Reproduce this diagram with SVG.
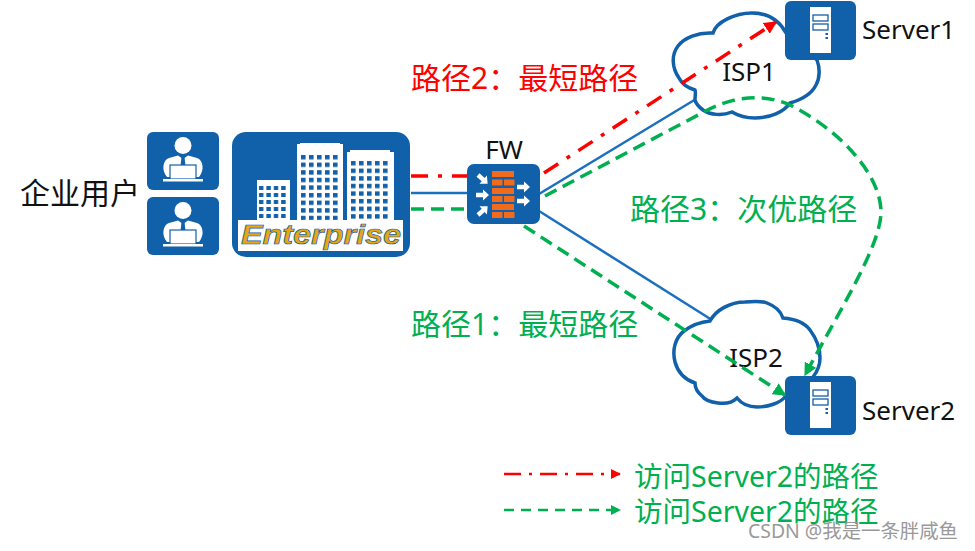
<svg xmlns="http://www.w3.org/2000/svg" xmlns:xlink="http://www.w3.org/1999/xlink" width="975" height="551" viewBox="0 0 975 551">
<style>
text{font-family:"Noto Sans","Noto Sans CJK SC",sans-serif}
.t{font-size:26px;fill:#111}
.g{font-size:30px;fill:#00b050}
.r{font-size:30px;fill:#f00}
.lg{font-size:28.500px;fill:#00b050}
.box{fill:#1160aa}
.w{fill:#fff}
.o{fill:#f26b1d}
.blue{fill:none;stroke:#1a6fc0;stroke-width:2.500}
.rd{fill:none;stroke:#f00;stroke-width:3.500;stroke-dasharray:17 10 4 10}
.gd{fill:none;stroke:#00b050;stroke-width:3.500;stroke-dasharray:13 7}
.cloud{fill:#fff;stroke:#1160aa;stroke-width:3.500}
</style>
<defs>
<marker id="mr" viewBox="0 0 10 10" refX="9" refY="5" markerUnits="userSpaceOnUse" markerWidth="13" markerHeight="13" orient="auto"><path d="M0 0L10 5L0 10z" fill="#f00"/></marker>
<marker id="mg" viewBox="0 0 10 10" refX="9" refY="5" markerUnits="userSpaceOnUse" markerWidth="13" markerHeight="13" orient="auto"><path d="M0 0L10 5L0 10z" fill="#00b050"/></marker>
<marker id="lr" viewBox="0 0 10 10" refX="9" refY="5" markerUnits="userSpaceOnUse" markerWidth="10" markerHeight="10" orient="auto"><path d="M0 0L10 5L0 10z" fill="#f00"/></marker>
<marker id="lg" viewBox="0 0 10 10" refX="9" refY="5" markerUnits="userSpaceOnUse" markerWidth="10" markerHeight="10" orient="auto"><path d="M0 0L10 5L0 10z" fill="#00b050"/></marker>
<pattern id="win" width="8" height="7.600" patternUnits="userSpaceOnUse" x="300" y="154"><rect x="1" y="1" width="4.600" height="4.400" fill="#1160aa"/></pattern>
<pattern id="win2" width="8" height="7.600" patternUnits="userSpaceOnUse" x="350" y="160"><rect x="1" y="1" width="4.600" height="4.400" fill="#1160aa"/></pattern>
<pattern id="win3" width="7.400" height="7" patternUnits="userSpaceOnUse" x="258" y="185"><rect x="1" y="1" width="4.400" height="4" fill="#1160aa"/></pattern>
<g id="person">
<rect x="0" y="0" width="72" height="58" rx="6" class="box"/>
<circle cx="36" cy="13.500" r="8.500" class="w"/>
<path d="M20 45C14 38 16 28 22 26L31 23.500L36 27L41 23.500L50 26C56 28 58 38 52 45z" class="w"/>
<path d="M34.500 25h3l1 9h-5z" class="box"/>
<rect x="23" y="33" width="26" height="14" fill="#fff" stroke="#1160aa" stroke-width="1.200"/>
<rect x="16" y="47" width="40" height="2.500" class="w"/>
</g>
<g id="srv">
<rect x="0" y="0" width="71" height="59" rx="6" class="box"/>
<rect x="25" y="6" width="21" height="46" class="w"/>
<rect x="28" y="14" width="15" height="6" fill="#fff" stroke="#1160aa" stroke-width="1.300"/>
<rect x="28" y="23" width="15" height="6" fill="#fff" stroke="#1160aa" stroke-width="1.300"/>
<rect x="40.500" y="32" width="2.500" height="2" class="box"/>
<rect x="40.500" y="36" width="2.500" height="2" class="box"/>
</g>
<path id="arr" d="M0 -2.200H7V-5.500L13 0L7 5.500V2.200H0z" fill="#fff"/>
</defs>

<g id="connectors">
<path class="blue" d="M411 193H468"/>
<path class="blue" d="M539 194L696 99"/>
<path class="blue" d="M539 211L712 320"/>
<path class="rd" d="M411 176H468"/>
<path class="gd" d="M411 209H468"/>
</g>

<g id="user1"><use xlink:href="#person" x="147" y="132"/></g>
<g id="user2"><use xlink:href="#person" x="147" y="197"/></g>
<g id="users-label"><text x="20" y="204" style="font-size:30px;fill:#111">企业用户</text></g>

<g id="enterprise">
<rect x="232" y="132" width="178" height="125" rx="14" class="box"/>
<path class="w" d="M257 180H290V225H257zM297 144H300V143H340V144H343V225H297zM347 152H350V150H390V152H394V225H347z"/>
<rect x="258" y="185" width="30" height="36" fill="url(#win3)"/>
<rect x="300" y="154" width="40" height="66" fill="url(#win)"/>
<rect x="350" y="160" width="40" height="60" fill="url(#win2)"/>
<rect x="238" y="220" width="165" height="31" class="w"/>
<text x="241" y="244" style="font-family:'Liberation Sans',sans-serif;font-size:27px;font-weight:700;font-style:italic;fill:#e8a712;stroke:#1160aa;stroke-width:.7" textLength="160" lengthAdjust="spacingAndGlyphs">Enterprise</text>
</g>

<g id="fw">
<rect x="467" y="164" width="73" height="60" rx="7" class="box"/>
<g class="o">
<rect x="492" y="171" width="22" height="6"/>
<rect x="492" y="179.500" width="10.500" height="6"/><rect x="504" y="179.500" width="10.500" height="6"/>
<rect x="492" y="188" width="22" height="6"/>
<rect x="492" y="196" width="10.500" height="6"/><rect x="504" y="196" width="10.500" height="6"/>
<rect x="492" y="204" width="22" height="6"/>
<rect x="492" y="212" width="10.500" height="6"/><rect x="504" y="212" width="10.500" height="6"/>
</g>
<use xlink:href="#arr" transform="translate(478,175) rotate(42)"/>
<use xlink:href="#arr" transform="translate(476,195)"/>
<use xlink:href="#arr" transform="translate(478,215) rotate(-42)"/>
<use xlink:href="#arr" transform="translate(517,187)"/>
<use xlink:href="#arr" transform="translate(517,201)"/>
<text x="504" y="159" text-anchor="middle" class="t">FW</text>
</g>

<g id="isp1">
<path class="cloud" d="M695 100C695 95 696 92 695 90C688 88 682 84 679 78C672 68 671 55 678 46C684 38 698 32 713 33C716 22 735 13 752 13C765 13 778 18 786 33L817 60C820 68 820 78 816 85C812 93 804 99 790 103C784 112 770 118 755 118C745 118 737 115 732 112C722 116 710 115 703 110C699 107 696 104 695 100z"/>
<text x="749" y="81" text-anchor="middle" class="t">ISP1</text>
</g>
<g id="server1"><use xlink:href="#srv" x="785" y="1"/><text class="t" x="862" y="39">Server1</text></g>

<g id="isp2">
<path class="cloud" d="M710 321C716 310 730 302 745 302C755 301 762 301 767 303C775 306 781 312 783 318C795 319 805 323 810 330C816 338 820 348 820 358C820 365 817 372 813 377L785 397C780 403 768 407 757 407C748 407 741 403 737 398C732 403 725 404 718 403C710 402 704 399 702 396C697 392 695 387 695 383C686 380 678 373 675 362C672 350 675 338 684 331C692 325 700 322 710 321z"/>
<text x="756" y="367" text-anchor="middle" class="t">ISP2</text>
</g>
<g id="server2"><use xlink:href="#srv" x="785" y="376"/><text class="t" x="862" y="420">Server2</text></g>

<g id="paths">
<path class="rd" d="M544 173L776 22" marker-end="url(#mr)"/>
<path class="gd" d="M545 196L700 114C730 97 760 92 790 105C840 130 881 175 881 212C881 245 840 310 805 375" marker-end="url(#mg)"/>
<path class="gd" d="M524 226L785 395" marker-end="url(#mg)"/>
</g>

<g id="labels">
<text class="r" x="411" y="89">路径2：最短路径</text>
<text class="g" x="630" y="220">路径3：次优路径</text>
<text class="g" x="411" y="335">路径1：最短路径</text>
</g>

<g id="legend">
<path d="M504 474H620" fill="none" stroke="#f00" stroke-width="2.500" stroke-dasharray="17 8 3 8" marker-end="url(#lr)"/>
<path d="M504 510H620" fill="none" stroke="#00b050" stroke-width="2.500" stroke-dasharray="10 7" marker-end="url(#lg)"/>
<text class="lg" x="634" y="487">访问Server2的路径</text>
<text class="lg" x="634" y="522">访问Server2的路径</text>
</g>
<text x="748" y="538" style="font-size:19.400px;fill:#999">CSDN @我是一条胖咸鱼</text>
</svg>
